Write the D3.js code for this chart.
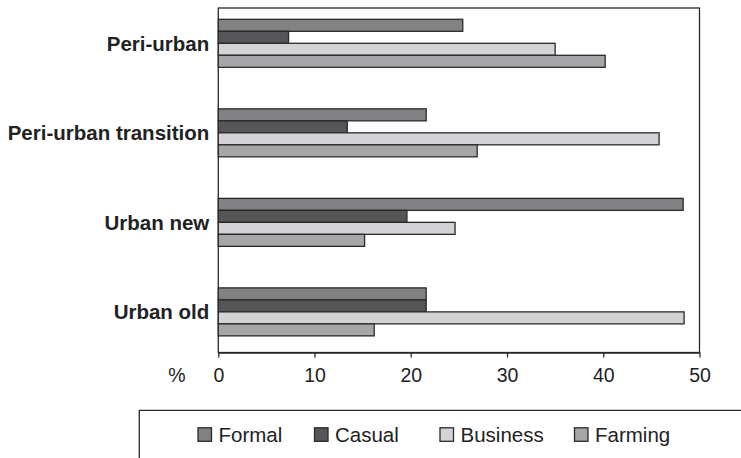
<!DOCTYPE html>
<html>
<head>
<meta charset="utf-8">
<script src="https://cdn.jsdelivr.net/npm/d3@7"></script>
<style>
html,body{margin:0;padding:0;background:#fff;}
svg{display:block;font-family:"Liberation Sans",Arial,sans-serif;}
</style>
</head>
<body>
<svg id="chart" width="741" height="458"></svg>
<script>
const categories = ["Peri-urban", "Peri-urban transition", "Urban new", "Urban old"];
const seriesNames = ["Formal", "Casual", "Business", "Farming"];
const formal   = [25.4, 21.6, 48.3, 21.6];
const casual   = [7.3, 13.4, 19.6, 21.6];
const business = [35.0, 45.8, 24.6, 48.4];
const farming  = [40.2, 26.9, 15.2, 16.2];
const xTicks = [0, 10, 20, 30, 40, 50];
const colors = ["#828284", "#565658", "#d3d3d5", "#a6a6a8"];

const seriesValues = [formal, casual, business, farming];

const svg = d3.select("#chart");
const plotLeft = 218.3, plotRight = 699.5, plotTop = 8, plotBottom = 352.5;

const x = d3.scaleLinear().domain([0, 50]).range([plotLeft, plotRight]);
const y = d3.scaleBand().domain(categories).range([plotTop, plotBottom])
  .paddingInner(0.464).paddingOuter(0.156).align(0.405);
const ySub = d3.scaleBand().domain(seriesNames).range([0, y.bandwidth()]);

// plot frame
svg.append("rect").attr("x", plotLeft).attr("y", plotTop)
  .attr("width", plotRight - plotLeft).attr("height", plotBottom - plotTop)
  .attr("fill", "none").attr("stroke", "#2a2a2a").attr("stroke-width", 1.3);

// bars
categories.forEach((cat, ci) => {
  const g = svg.append("g").attr("transform", `translate(0,${y(cat)})`);
  seriesNames.forEach((s, si) => {
    const v = seriesValues[si][ci];
    g.append("rect")
      .attr("x", x(0))
      .attr("y", ySub(s))
      .attr("width", x(v) - x(0))
      .attr("height", ySub.bandwidth())
      .attr("fill", colors[si])
      .attr("stroke", "#2a2a2a")
      .attr("stroke-width", 1.3);
  });
});

// x axis
const xAxis = d3.axisBottom(x).tickValues(xTicks).tickSize(5).tickPadding(10.5).tickSizeOuter(0);
const gx = svg.append("g").attr("transform", `translate(0,${plotBottom})`).call(xAxis);
gx.select(".domain").attr("stroke", "#2a2a2a").attr("stroke-width", 1.3);
gx.selectAll(".tick line").attr("stroke", "#2a2a2a").attr("stroke-width", 1.3);
gx.selectAll(".tick text").attr("font-size", "19.5px").attr("fill", "#222")
  .attr("font-family", "'Liberation Sans',Arial,sans-serif");

svg.append("text").attr("x", 177).attr("y", 382).attr("text-anchor", "middle")
  .attr("font-size", "19.5px").attr("fill", "#222").text("%");

// y axis labels
const yAxis = d3.axisLeft(y).tickSize(0).tickPadding(9);
const gy = svg.append("g").attr("transform", `translate(${plotLeft},0)`).call(yAxis);
gy.select(".domain").remove();
gy.selectAll(".tick text").attr("font-size", "20.5px").attr("font-weight", "bold")
  .attr("fill", "#222").attr("font-family", "'Liberation Sans',Arial,sans-serif")
  .attr("dy", "0.36em");

// legend frame
svg.append("path").attr("d", "M139.3,458 V410.3 H741")
  .attr("fill", "none").attr("stroke", "#2a2a2a").attr("stroke-width", 1.3);

const legendX = [198, 314.5, 440, 574.5];
seriesNames.forEach((s, i) => {
  svg.append("rect").attr("x", legendX[i]).attr("y", 427.8)
    .attr("width", 13.5).attr("height", 13.5)
    .attr("fill", colors[i]).attr("stroke", "#2a2a2a").attr("stroke-width", 1.3);
  svg.append("text").attr("x", legendX[i] + 20.5).attr("y", 441.5)
    .attr("font-size", "20.5px").attr("fill", "#222").text(s);
});
</script>
</body>
</html>
